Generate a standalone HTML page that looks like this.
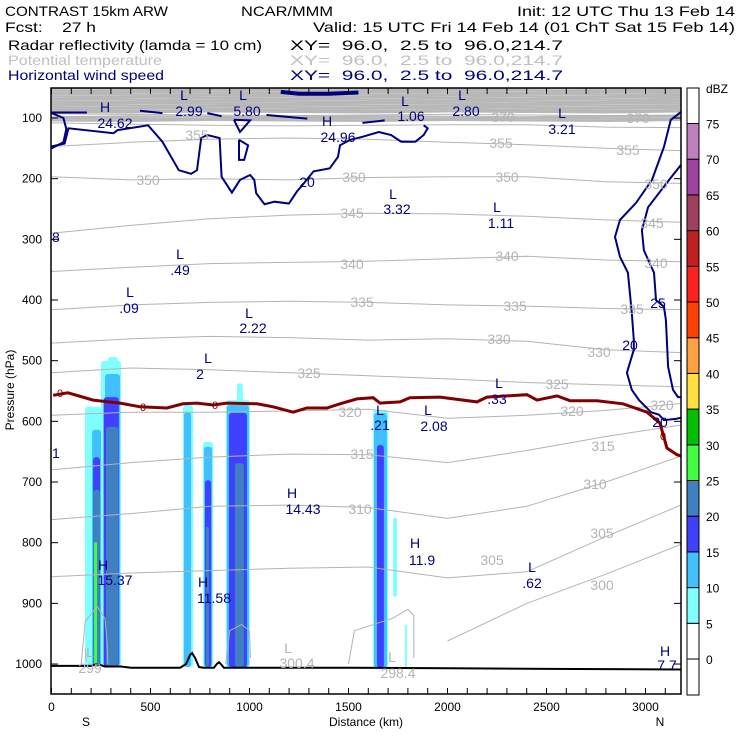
<!DOCTYPE html>
<html><head><meta charset="utf-8"><title>CONTRAST cross section</title>
<style>
html,body{margin:0;padding:0;background:#fff;}
svg{display:block;font-family:"Liberation Sans",sans-serif;}
.hdr{font-size:14px;}
.nv{fill:#00007f;font-size:14px;text-anchor:middle;}
.gy{fill:#b4b4b4;font-size:14px;text-anchor:middle;}
.tk{font-size:12px;fill:#000;}
</style></head>
<body>
<svg id="chart" width="740" height="740" viewBox="0 0 740 740">
  <g>
    <text class="hdr" x="5" y="16" textLength="163" lengthAdjust="spacingAndGlyphs">CONTRAST 15km ARW</text>
    <text class="hdr" x="241" y="16" textLength="92" lengthAdjust="spacingAndGlyphs">NCAR/MMM</text>
    <text class="hdr" x="517" y="16" textLength="218" lengthAdjust="spacingAndGlyphs">Init: 12 UTC Thu 13 Feb 14</text>
    <text class="hdr" x="5" y="32" textLength="91" lengthAdjust="spacingAndGlyphs">Fcst:&#160;&#160;&#160;&#160;27 h</text>
    <text class="hdr" x="313" y="32" textLength="422" lengthAdjust="spacingAndGlyphs">Valid: 15 UTC Fri 14 Feb 14 (01 ChT Sat 15 Feb 14)</text>
    <text class="hdr" x="8" y="50" textLength="254" lengthAdjust="spacingAndGlyphs">Radar reflectivity (lamda = 10 cm)</text>
    <text class="hdr" x="290" y="50" textLength="273" lengthAdjust="spacingAndGlyphs">XY=&#160;&#160;96.0,&#160;&#160;2.5 to&#160;&#160;96.0,214.7</text>
    <text class="hdr" x="8" y="65" fill="#c0c0c0" textLength="154" lengthAdjust="spacingAndGlyphs">Potential temperature</text>
    <text class="hdr" x="290" y="65" fill="#c0c0c0" textLength="273" lengthAdjust="spacingAndGlyphs">XY=&#160;&#160;96.0,&#160;&#160;2.5 to&#160;&#160;96.0,214.7</text>
    <text class="hdr" x="8" y="80" fill="#00007f" textLength="156" lengthAdjust="spacingAndGlyphs">Horizontal wind speed</text>
    <text class="hdr" x="290" y="80" fill="#00007f" textLength="273" lengthAdjust="spacingAndGlyphs">XY=&#160;&#160;96.0,&#160;&#160;2.5 to&#160;&#160;96.0,214.7</text>
  </g>
  <defs><clipPath id="pc"><rect x="51" y="88" width="630" height="606"/></clipPath></defs>
  <g id="plot" clip-path="url(#pc)"></g>
  <g id="axes"></g>
  <g id="cbar"></g>
</svg>
<script>
// ---- data ----
const thetaKm = [0,400,800,1200,1600,2000,2400,2800,3200];
const thetaLevels = [370,360,355,350,345,340,335,330,325,320,315,310,305,300];
const th370 = [93,94,95,96,95,94,95,96,95];
const th360 = [108,110,112,113,112,111,111,115,116];
const th355 = [147,140,135,133,135,140,144,150,154];
const th350 = [197,202,200,202,198,197,197,205,208];
const th345 = [290,277,266,260,257,258,262,268,272];
const th340 = [353,346,340,338,336,332,328,334,337];
const th335 = [416,408,404,402,404,408,410,414,416];
const th330 = [471,464,460,462,466,464,468,482,487];
const th325 = [520,512,515,520,525,530,536,540,543];
const th320 = [590,585,585,583,580,595,590,582,570];
const th315 = [680,668,659,654,655,668,648,625,605];
const th310 = [762,752,740,738,742,760,740,700,655];
const th305 = [856,850,846,842,840,858,848,790,735];
const th300 = [null,null,null,null,null,962,900,852,800];
const thetaStrat = [52,55,58,61,64,67,70,73,76,79,82,85,88,90,98,101,104];

const wind20aKm = [0,66,86,313,334,488,560,643,705,735,756,787,849,859,911,952,1003,1024,1034,1076,1127,1199,1240,1261,1323,1405,1447,1457,1509,1570,1653,1715,1766,1838,1880,1900,1880];
const wind20aP  = [147,142,117,125,120,112,139,186,192,186,133,128,133,197,223,202,194,202,224,242,238,241,221,213,188,183,164,145,136,131,123,128,139,139,128,117,112];
const wind20bKm = [3180,3128,3093,3033,2952,2871,2846,2871,2911,2931,2941,2941,2906,2931,2967,3028,3068,3093,3154,3180];
const wind20bP  = [90,103,148,202,240,268,296,329,355,421,466,482,520,548,565,585,589,598,596,594];
const wind25Km = [3180,3119,3013,2982,2992,3043,3053,3093,3103,3114,3139,3164,3180];
const wind25P  = [177,202,247,285,318,355,400,411,433,510,548,560,560];
const windSegKm = [[0,179],[447,560],[787,859],[1086,1292],[1570,1683],[921,1003,952,921],[947,993,973,947,947],[0,60,75,60,0]];
const windSegP  = [[91,91],[88,92],[92,97],[95,101],[108,104],[103,104,123,103],[136,145,169,169,136],[92,100,118,140,150]];
const windJetKm = [1158,1250,1400,1550];
const windJetP  = [57,60,60,58];

const frzKm = [8,83,210,346,447,583,664,735,816,886,1038,1119,1220,1290,1391,1457,1543,1624,1659,1760,1810,1962,2149,2199,2401,2452,2553,2619,2755,2886,3008,3073,3108,3159,3180];
const frzP  = [557,553,565,570,576,578,571,570,573,570,571,576,585,578,578,571,563,561,570,568,561,560,568,560,556,565,558,566,566,571,585,603,644,655,657];

// reflectivity cells
const reflLeft  = [169,250,240,285,664,765,881,937,1624,1725,1785, 205,270,669,770,886,1629, 210,263,775,896,1644, 210,275,780,927, 215];
const reflRight = [250,351,351,336,715,816,1002,967,1700,1745,1795, 250,346,705,811,997,1694, 245,340,806,987,1679, 245,336,795,972, 230];
const reflTop   = [576,500,600,494,573,634,565,537,581,759,935, 614,522,585,642,573,586, 659,560,697,586,639, 713,609,774,669, 799];
const reflBot   = [1004,1004,1004,1004,1005,1005,1005,1005,1006,889,1006, 1004,1004,1005,1005,1005,1006, 1004,1004,1005,1005,1006, 1004,1004,1005,1005, 1003];
const reflLevel = [5,5,5,5,5,5,5,5,5,5,5, 10,10,10,10,10,10, 15,15,15,15,15, 20,20,20,20, 25];

const terrainKm = [0,200,230,250,270,350,400,650,680,700,710,725,745,770,820,835,846,858,870,1500,2000,2500,3180];
const terrainP  = [1003,1003,1000,1002,1004,1004,1006,1006,1000,985,982,990,1005,1006,1006,1000,997,1001,1006,1006,1007,1008,1009];

const sfcLoopKm = [[150,170,230,270,280,285],[880,900,960,1000,1005],[1500,1530,1720,1800,1830,1830],[170,175]];
const sfcLoopP  = [[1000,930,905,925,960,1000],[1000,945,935,945,990],[1000,945,925,910,920,990],[975,995]];

const cbLevels = [0,5,10,15,20,25,30,35,40,45,50,55,60,65,70,75];
const cbColors = ["#ffffff","#80ffff","#40c0ff","#4040ff","#4080c0","#40ff40","#00c000","#ffe040","#ffa040","#ff4000","#ff2020","#c02020","#a04060","#a040a0","#c080c0"];
const xTicks = [0,500,1000,1500,2000,2500,3000];
const yTicks = [100,200,300,400,500,600,700,800,900,1000];

// ---- scales ----
const X = km => 51.5 + km*0.198;
const Y = p => 118 + (p-100)*0.6067;
const NS = "http://www.w3.org/2000/svg";
const plot = document.getElementById('plot');
const axes = document.getElementById('axes');
const cbar = document.getElementById('cbar');
function mk(tag, attrs, parent){const e=document.createElementNS(NS,tag);for(const k in attrs)e.setAttribute(k,attrs[k]);parent.appendChild(e);return e;}
function pts(kms, ps){let s=[];for(let i=0;i<kms.length;i++){if(ps[i]==null)continue;s.push(X(kms[i]).toFixed(1)+","+Y(ps[i]).toFixed(1));}return s.join(" ");}
const reflColor = {5:"#80ffff",10:"#40c0ff",15:"#4040ff",20:"#4080c0",25:"#40ff40"};

for (let i=0;i<thetaStrat.length;i++){
  const p=thetaStrat[i];
  const l=mk('polyline',{points:pts(thetaKm,thetaKm.map((k,j)=>p+((i+j)%3-1)*0.8)),fill:'none',stroke:'#b8b8b8','stroke-width':2.2},plot);
  
  
}
for (let i=0;i<reflLeft.length;i++){
  const x1=X(reflLeft[i]), x2=X(reflRight[i]), y1=Y(reflTop[i]), y2=Y(reflBot[i]);
  const r=mk('rect',{x:x1.toFixed(1),y:y1.toFixed(1),width:(x2-x1).toFixed(1),height:(y2-y1).toFixed(1),rx:Math.min((x2-x1)/2,3).toFixed(1),fill:reflColor[reflLevel[i]]},plot);
  
  
}
const thetaSeries=[th370,th360,th355,th350,th345,th340,th335,th330,th325,th320,th315,th310,th305,th300];
thetaSeries.forEach((s,i)=>{
  const l=mk('polyline',{points:pts(thetaKm,s),fill:'none',stroke:'#b4b4b4','stroke-width':1},plot);
  
  
});
sfcLoopKm.forEach((k,i)=>{
  const l=mk('polyline',{points:pts(k,sfcLoopP[i]),fill:'none',stroke:'#b4b4b4','stroke-width':1},plot);
  
  
});
[[wind20aKm,wind20aP,'wind-contour-20-upper'],[wind20bKm,wind20bP,'wind-contour-20-right'],[wind25Km,wind25P,'wind-contour-25']].forEach(a=>{
  const l=mk('polyline',{points:pts(a[0],a[1]),fill:'none',stroke:'#00007f','stroke-width':2},plot);
  
  
});
windSegKm.forEach((k,i)=>{
  const l=mk('polyline',{points:pts(k,windSegP[i]),fill:'none',stroke:'#00007f','stroke-width':2},plot);
  
  
});
const jet=mk('polyline',{points:pts(windJetKm,windJetP),fill:'none',stroke:'#00007f','stroke-width':4},plot);


const fz=mk('polyline',{points:pts(frzKm,frzP),fill:'none',stroke:'#800000','stroke-width':3},plot);


const tr=mk('polyline',{points:pts(terrainKm,terrainP),fill:'none',stroke:'#000','stroke-width':2},plot);



const navyLabels=[["H",105,107],["24.62",115,123],["L",184,95],["2.99",189,111],["L",243,95],["5.80",247,111],["H",327,121],["24.96",338,137],["L",405,101],["1.06",411,116],["L",462,95],["2.80",466,111],["L",562,113],["3.21",562,129],["20",307,182],["L",393,194],["3.32",397,209],["L",497,207],["1.11",501,223],["L",180,254],[".49",180,270],["L",130,292],[".09",129,308],["L",249,313],["2.22",253,328],["L",208,358],["2",200,374],["25",658,303],["20",630,345],["18",52,237],["31",52,453],["H",292,493],["14.43",303,509],["H",103,565],["15.37",115,580],["H",203,582],["11.58",214,598],["L",380,410],[".21",380,425],["L",499,383],[".33",497,399],["L",428,410],["2.08",434,426],["H",415,543],["11.9",422,560],["L",532,567],[".62",532,583],["H",665,651],["7.7",667,665],["20",660,422]];
navyLabels.forEach(a=>{const t=mk('text',{class:'nv',x:a[1],y:a[2]+5},plot);t.textContent=a[0];
  
  });
const grayLabels=[["370",503,117],["370",638,118],["355",197,135],["355",501,143],["355",628,150],["350",148,180],["350",354,177],["350",507,177],["350",656,184],["345",352,213],["345",652,223],["340",352,264],["340",507,256],["340",656,263],["335",362,302],["335",515,306],["335",632,309],["330",499,339],["330",599,352],["325",309,373],["325",557,384],["320",350,412],["320",572,411],["320",662,405],["315",603,446],["315",362,454],["310",360,509],["310",595,484],["305",602,533],["305",492,560],["300",602,585],["L",288,648],["300.4",297,663],["L",90,652],["299",90,668],["L",392,657],["298.4",398,673]];
grayLabels.forEach(a=>{const t=mk('text',{class:'gy',x:a[1],y:a[2]+5},plot);t.textContent=a[0];
  
  });
[[60,393],[143,407],[215,405],[663,436]].forEach(a=>{const t=mk('text',{x:a[0],y:a[1]+4,'font-size':11,fill:'#800000','text-anchor':'middle'},plot);t.textContent="0";
  
  });

const fr=mk('rect',{x:51,y:88,width:630,height:606,fill:'none',stroke:'#000','stroke-width':1.5},axes);


for(let k=0;k<=3100;k+=100){
  mk('line',{x1:X(k),x2:X(k),y1:694,y2:688,stroke:'#000'},axes);
  mk('line',{x1:X(k),x2:X(k),y1:88,y2:94,stroke:'#000'},axes);
}
xTicks.forEach(k=>{const t=mk('text',{class:'tk',x:X(k),y:711,'text-anchor':'middle'},axes);t.textContent=k;
  
  });
yTicks.forEach(p=>{
  mk('line',{x1:51,x2:58,y1:Y(p),y2:Y(p),stroke:'#000'},axes);
  mk('line',{x1:681,x2:674,y1:Y(p),y2:Y(p),stroke:'#000'},axes);
  const t=mk('text',{class:'tk',x:42,y:Y(p)+4,'text-anchor':'end'},axes);t.textContent=p;
  
  
});
[[86,"S","x-axis-south"],[660,"N","x-axis-north"]].forEach(a=>{const t=mk('text',{class:'tk',x:a[0],y:726,'text-anchor':'middle','font-size':13},axes);t.textContent=a[1];
  
  });
const xt=mk('text',{class:'tk',x:366,y:726,'text-anchor':'middle'},axes);xt.textContent="Distance (km)";


const yt=mk('text',{class:'tk',x:0,y:0,'text-anchor':'middle',transform:'translate(14,390) rotate(-90)'},axes);yt.textContent="Pressure (hPa)";



const seg=35.7, y0=659;
const cbTop=mk('rect',{x:687,y:88,width:12,height:y0-15*seg-88,fill:'#fff',stroke:'#000'},cbar);


cbColors.forEach((c,i)=>{
  const r=mk('rect',{x:687,y:(y0-(i+1)*seg).toFixed(1),width:12,height:seg.toFixed(1),fill:c,stroke:'#000'},cbar);
  
  
});
const cbBot=mk('rect',{x:687,y:y0,width:12,height:695-y0,fill:'#fff',stroke:'#000'},cbar);


cbLevels.forEach((v,i)=>{const t=mk('text',{class:'tk',x:706,y:(y0-i*seg+5).toFixed(1),'font-size':13},cbar);t.textContent=v;
  
  });
const du=mk('text',{class:'tk',x:706,y:93,'font-size':13},cbar);du.textContent="dBZ";


</script>
</body></html>
